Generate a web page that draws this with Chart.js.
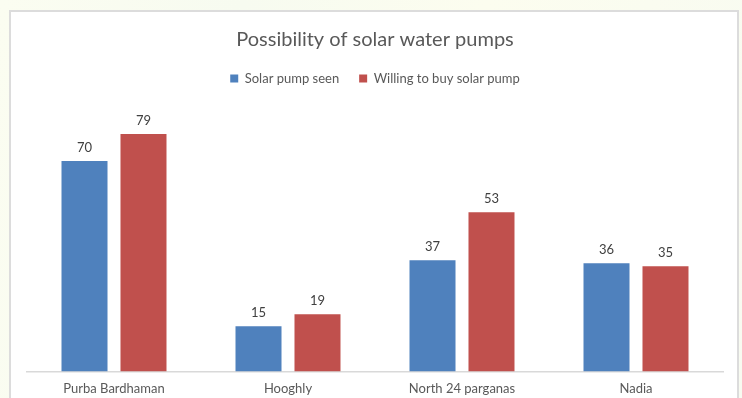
<!DOCTYPE html>
<html>
<head>
<meta charset="utf-8">
<script src="https://cdn.jsdelivr.net/npm/chart.js@4"></script>
<style>
  html, body { margin: 0; padding: 0; }
  body {
    width: 742px; height: 398px; overflow: hidden; position: relative;
    background: linear-gradient(100deg, #fbfdf1 0%, #f7fbf0 30%, #fcfdef 60%, #f8fbf1 100%);
  }
  #frame {
    position: absolute; left: 9px; top: 10px; width: 726px; height: 420px;
    background: #ffffff; border: 2px solid #dcdcdc;
  }
  #wrap { position: absolute; left: 0; top: 0; width: 742px; height: 398px; }
</style>
</head>
<body>
<div id="frame"></div>
<div id="wrap"><canvas id="bars" width="742" height="398"></canvas></div>
<script>
const districts = ['Purba Bardhaman', 'Hooghly', 'North 24 parganas', 'Nadia'];
const pumpSeen = [70, 15, 37, 36];
const willingToBuy = [79, 19, 53, 35];

const textGray = '#595959';
const fontFamily = 'Lato, "Open Sans", sans-serif';

// numbers above each bar
const valueLabels = {
    id: 'valueLabels',
    afterDatasetsDraw(chart) {
        const ctx = chart.ctx;
        ctx.save();
        ctx.font = '13px ' + fontFamily;
        ctx.fillStyle = '#404040';
        ctx.textAlign = 'center';
        ctx.textBaseline = 'bottom';
        chart.data.datasets.forEach((ds, i) => {
            chart.getDatasetMeta(i).data.forEach((bar, j) => {
                ctx.fillText(ds.data[j], bar.x, bar.y - 7);
            });
        });
        ctx.restore();
    }
};

// extra room between legend and plot
const legendGap = {
    id: 'legendGap',
    beforeInit(chart) {
        const fit = chart.legend.fit;
        chart.legend.fit = function () {
            fit.bind(chart.legend)();
            this.height += 6;
        };
    }
};

const ctx = document.getElementById('bars').getContext('2d');
const bars = new Chart(ctx, {
    type: 'bar',
    data: {
        labels: districts,
        datasets: [{
            label: 'Solar pump seen',
            data: pumpSeen,
            backgroundColor: '#4f81bd'
        }, {
            label: 'Willing to buy solar pump',
            data: willingToBuy,
            backgroundColor: '#c0504d'
        }]
    },
    options: {
        responsive: false,
        animation: false,
        categoryPercentage: 0.678,
        barPercentage: 0.78,
        layout: {
            padding: { top: 18, left: 27, right: 19, bottom: -9 }
        },
        scales: {
            y: {
                display: false,
                min: 0,
                max: 90
            },
            x: {
                grid: { display: false, drawTicks: false },
                border: { display: true, color: '#d9d9d9', width: 1.5 },
                ticks: {
                    padding: 10,
                    color: textGray,
                    font: { family: fontFamily, size: 13 }
                }
            }
        },
        plugins: {
            title: {
                display: true,
                text: 'Possibility of solar water pumps',
                color: textGray,
                padding: { top: 10, bottom: 0 },
                font: { family: fontFamily, size: 20, weight: 'normal' }
            },
            legend: {
                position: 'top',
                labels: {
                    boxWidth: 8,
                    boxHeight: 8,
                    padding: 20,
                    color: textGray,
                    font: { family: fontFamily, size: 13 }
                }
            },
            tooltip: { enabled: false }
        }
    },
    plugins: [valueLabels, legendGap]
});
</script>
</body>
</html>
